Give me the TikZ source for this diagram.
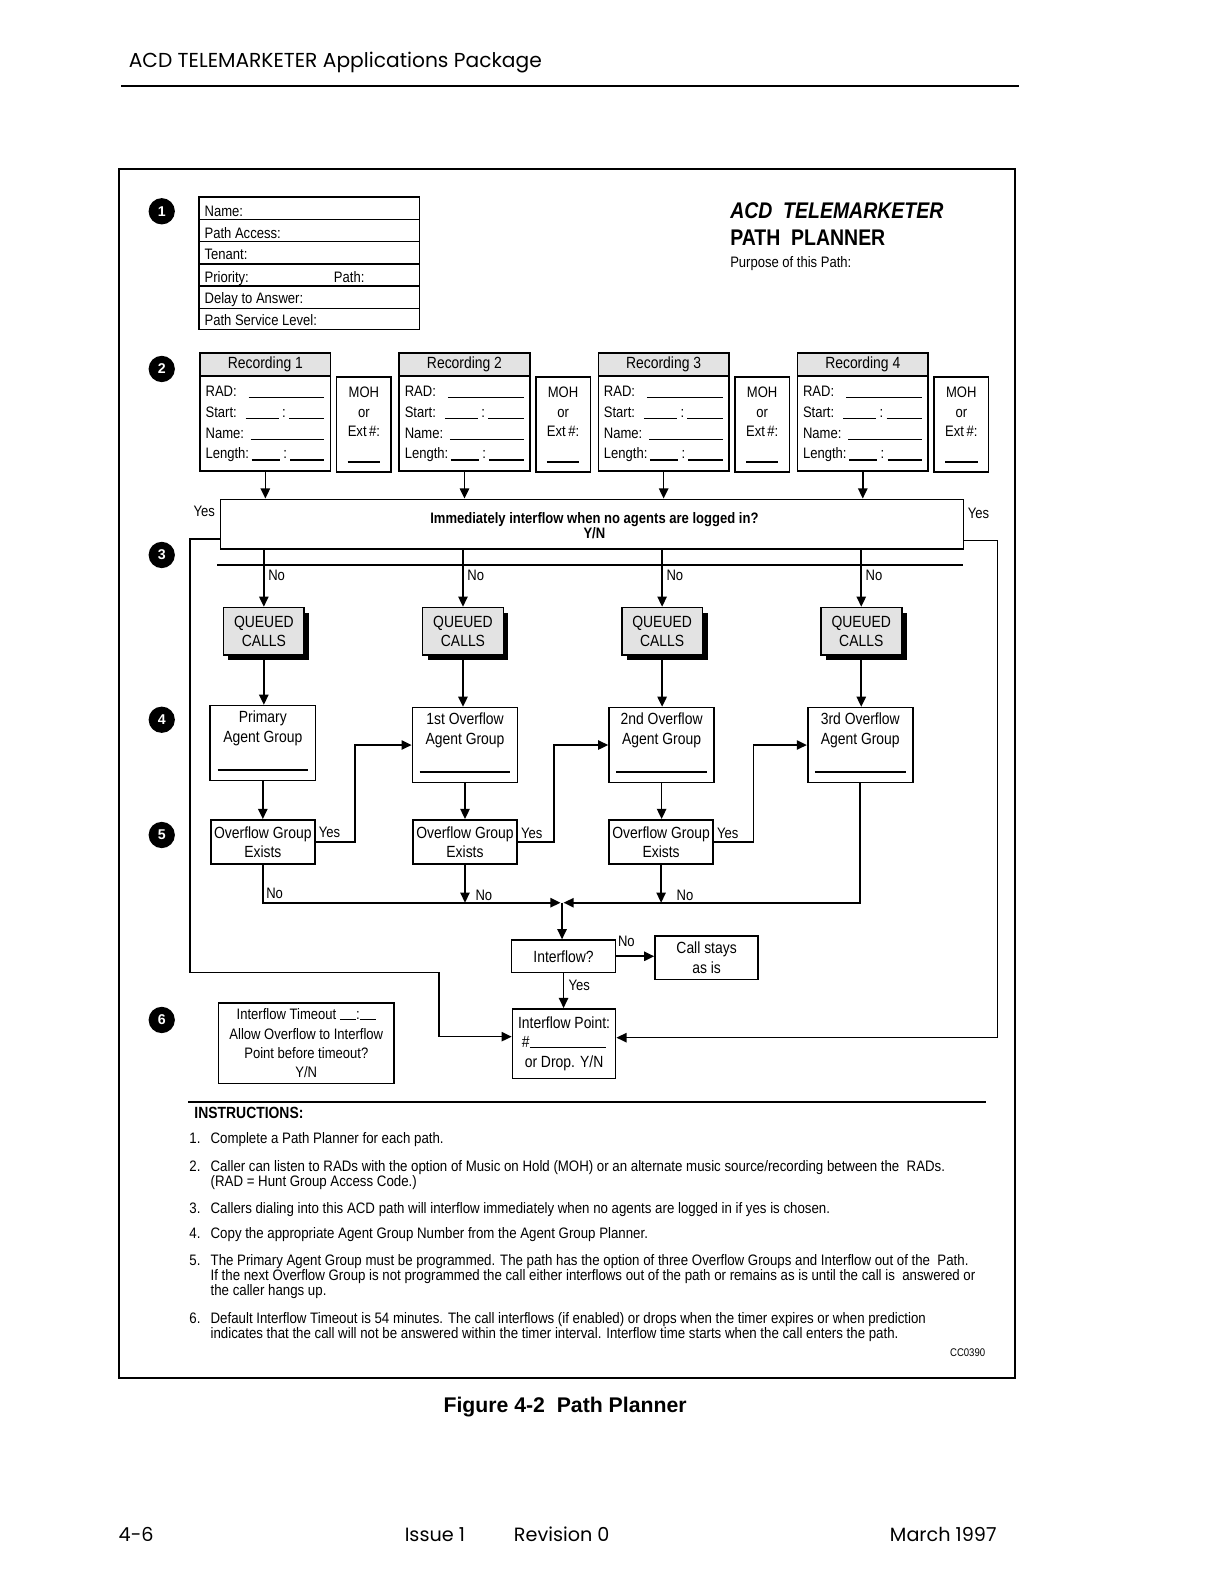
\documentclass[tikz,border=0pt]{standalone}
\usepackage{fontspec}
\setmainfont{Liberation Sans}
\newfontfamily\cnd{Liberation Sans}[FakeStretch=0.86]
\newfontfamily\ncd{Liberation Sans}[FakeStretch=0.875]
\newfontfamily\gth{Poppins}
\usetikzlibrary{arrows.meta,shadows}
\tikzset{
  frm/.style={draw, line width=0.8pt},
  f75/.style={font=\cnd\fontsize{7.5}{9}\selectfont},
  f8/.style={font=\cnd\fontsize{8}{9.5}\selectfont, align=center},
  arr/.style={line width=0.8pt, -{Triangle[length=5pt,width=4.6pt]}},
  ln/.style={line width=0.8pt},
  blank/.style={line width=0.6pt},
  numc/.style={circle, fill=black, minimum size=13pt, text=white, font=\bfseries\fontsize{7}{8}\selectfont},
  shade/.style={fill=gray!22},
  qbox/.style={frm, shade, minimum width=40pt, minimum height=23.5pt, f8,
    drop shadow={shadow xshift=2.5pt, shadow yshift=-2.5pt, opacity=1, fill=black}},
  ins/.style={font=\ncd\fontsize{7.5}{9}\selectfont, anchor=base west},
  foot/.style={font=\gth\fontsize{9.5}{11}\selectfont, anchor=base west},
}
\begin{document}
\begin{tikzpicture}[x=0.5pt,y=-0.5pt, every node/.style={inner sep=0pt}]
\useasboundingbox (0,0) rectangle (1200,1564);
% header
\node[foot, font=\gth\fontsize{10}{12}\selectfont] (hdr) at (127,67) {ACD TELEMARKETER Applications Package};
\draw[line width=0.6pt] (120,85) -- (1008,85);
\draw[line width=0.8pt] (118,167) rectangle (1004,1363);
% numbers
\foreach \k/\yy in {1/209,2/365,3/549,4/712,5/826,6/1009}
  \node[numc] (num\k) at (160,\yy) {\k};
% box 1
\node[frm, minimum width=109pt, minimum height=65.5pt] (b1) at (306,260.5) {};
\foreach \yy in {217,239,261,283,305}
  \draw[ln] (b1.west |- 0,\yy) -- (b1.east |- 0,\yy);
\node[f75, anchor=base west] (l1) at (202,214) {Name:};
\node[f75, anchor=base west] (l2) at (202,236) {Path Access:};
\node[f75, anchor=base west] (l3) at (202,257) {Tenant:};
\node[f75, anchor=base west] (l4) at (202,279) {Priority:};
\node[f75, anchor=base west] (l4b) at (330,279) {Path:};
\node[f75, anchor=base west] (l5) at (202,300) {Delay to Answer:};
\node[f75, anchor=base west] (l6) at (202,322) {Path Service Level:};
% title
\node[font=\cnd\bfseries\itshape\fontsize{11.2}{13}\selectfont, anchor=base west] (t1) at (722,216) {ACD\ \ TELEMARKETER};
\node[font=\cnd\bfseries\fontsize{11.2}{13}\selectfont, anchor=base west] (t2) at (722,243) {PATH\ \ PLANNER};
\node[f75, anchor=base west] (t3) at (722,265) {Purpose of this Path:};
% recordings
\foreach \i in {0,1,2,3}{
  \pgfmathsetmacro\dx{197*\i}
  \pgfmathtruncatemacro\rn{\i+1}
  \node[frm, shade, minimum width=64.5pt, minimum height=11.5pt, f8] (rech\i) at (262.5+\dx,360.5) {Recording \rn};
  \node[frm, minimum width=64.5pt, minimum height=47pt] (recb\i) at (262.5+\dx,419) {};
  \node[f75, anchor=base west] (rad\i) at (203+\dx,392) {RAD:};
  \draw[blank] (246+\dx,393) -- (321+\dx,393);
  \node[f75, anchor=base west] (st\i) at (203+\dx,413) {Start:};
  \draw[blank] (243+\dx,414) -- (276+\dx,414);
  \node[f75, anchor=base] (stc\i) at (281+\dx,413) {:};
  \draw[blank] (286+\dx,414) -- (321+\dx,414);
  \node[f75, anchor=base west] (nm\i) at (203+\dx,434) {Name:};
  \draw[blank] (248+\dx,435) -- (321+\dx,435);
  \node[f75, anchor=base west] (le\i) at (203+\dx,454) {Length:};
  \draw[blank] (249+\dx,455) -- (277+\dx,455);
  \node[f75, anchor=base] (lec\i) at (282+\dx,454) {:};
  \draw[blank] (287+\dx,455) -- (321+\dx,455);
  \node[frm, minimum width=27pt, minimum height=47pt] (moh\i) at (360+\dx,420) {};
  \node[f75, anchor=base] (mo\i) at (360+\dx,393) {MOH};
  \node[f75, anchor=base] (or\i) at (360+\dx,413) {or};
  \node[f75, anchor=base] (ex\i) at (360+\dx,432) {Ext\,\#:};
  \draw[blank] (344+\dx,457) -- (376+\dx,457);
}
% question
\node[frm, minimum width=367.5pt, minimum height=24.5pt] (q) at (585.5,518.5) {};
\node[font=\cnd\bfseries\fontsize{7.5}{9}\selectfont, anchor=base] (qt) at (588,518) {Immediately interflow when no agents are logged in?};
\node[font=\cnd\bfseries\fontsize{7.5}{9}\selectfont, anchor=base] (qyn) at (588,533) {Y/N};
\foreach \i in {0,1,2,3}
  \draw[arr] (recb\i.south) -- (recb\i.south |- q.north);
\node[f75, anchor=base east] (yesl) at (213,511) {Yes};
\node[f75, anchor=base west] (yesr) at (957,513) {Yes};
\draw[ln] (215,559) -- (953,559);
% queued
\foreach \i/\xx in {0/261,1/458,2/655,3/852}{
  \node[qbox] (qc\i) at (\xx,624.5) {QUEUED\\CALLS};
  \draw[arr] (q.south -| qc\i) -- (qc\i.north);
  \node[f75, anchor=base west] (no\i) at (\xx+4,574) {No};
}
% agents
\foreach \i/\xx/\yy/\tx in {0/260/735/{Primary\\Agent Group},1/460/737/{1st Overflow\\Agent Group},2/654.5/737/{2nd Overflow\\Agent Group},3/851/737/{3rd Overflow\\Agent Group}}{
  \node[frm, minimum width=52pt, minimum height=37pt] (ag\i) at (\xx,\yy) {};
  \node[f8, anchor=north] (agt\i) at ([yshift=-3pt]ag\i.north) {\tx};
  \draw[ln] ([xshift=4pt,yshift=5.5pt]ag\i.south west) -- ([xshift=-4pt,yshift=5.5pt]ag\i.south east);
  \draw[arr] (qc\i.south) -- (qc\i.south |- ag\i.north);
}
% overflow exists
\foreach \i/\xx in {0/260,1/460,2/654}{
  \node[frm, minimum width=51.5pt, minimum height=22pt, f8] (ov\i) at (\xx,833) {Overflow Group\\Exists};
  \draw[arr] (ag\i.south) -- (ag\i.south |- ov\i.north);
}
\draw[arr] (ov0.east) -- ++(39,0) |- (ag1.west);
\draw[arr] (ov1.east) -- ++(36,0) |- (ag2.west);
\draw[arr] (ov2.east) -- ++(39,0) |- (ag3.west);
\node[f75, anchor=base west] (y0) at (315,828) {Yes};
\node[f75, anchor=base west] (y1) at (515,829) {Yes};
\node[f75, anchor=base west] (y2) at (709,829) {Yes};
% interflow decision
\node[frm, minimum width=51.5pt, minimum height=16pt, f8] (ifq) at (557.5,946) {Interflow?};
\node[frm, minimum width=51pt, minimum height=21.5pt, f8] (cs) at (699,947.5) {Call stays\\as is};
\node[frm, minimum width=51pt, minimum height=34.5pt, f8] (ip) at (558,1032.5) {Interflow Point:\\\#\rule{38pt}{0.5pt}\\or Drop. Y/N};
\coordinate (jn) at (556,893);
\coordinate (jnl) at (554.5,893);
\coordinate (jnr) at (557.5,893);
\draw[arr] (ov0.south) |- (jnl);
\draw[arr] (ag3.south) |- (jnr);
\draw[arr] (ov1.south) -- (ov1.south |- jn);
\draw[arr] (ov2.south) -- (ov2.south |- jn);
\draw[arr] (jn) -- (jn |- ifq.north);
\node[f75, anchor=base west] (n0) at (263,889) {No};
\node[f75, anchor=base west] (n1) at (470,891) {No};
\node[f75, anchor=base west] (n2) at (669,891) {No};
\draw[arr] (ifq.east) -- (ifq.east -| cs.west);
\node[f75, anchor=base west] (nolab) at (611,936) {No};
\draw[arr] (ifq.south) -- (ifq.south |- ip.north);
\node[f75, anchor=base west] (yesi) at (562,980) {Yes};
\draw[arr] ([yshift=-7.25pt]q.west) -- ++(-29,0) |- (434,962) |- ([yshift=3.5pt]ip.west);
\draw[arr] ([yshift=-8pt]q.east) -- ++(33,0) |- ([yshift=3pt]ip.east);
% timeout
\node[frm, minimum width=87pt, minimum height=40pt, font=\cnd\fontsize{7.5}{9.5}\selectfont, align=center] (tb) at (303,1032) {Interflow Timeout \rule{8pt}{0.5pt}:\rule{8pt}{0.5pt}\\Allow Overflow to Interflow\\Point before timeout?\\Y/N};
% instructions
\draw[line width=1.2pt] (186,1090) -- (975,1090);
\node[font=\cnd\bfseries\fontsize{8}{9}\selectfont, anchor=base west] (insh) at (192,1106) {INSTRUCTIONS:};
\node[ins] (i1n) at (187,1131) {1.};
\node[ins] (i1) at (208,1131) {Complete a Path Planner for each path.};
\node[ins] (i2n) at (187,1159) {2.};
\node[ins] (i2) at (208,1159) {Caller can listen to RADs with the option of Music on Hold (MOH) or an alternate music source/recording between the\ \ RADs.};
\node[ins] (i2b) at (208,1174) {(RAD = Hunt Group Access Code.)};
\node[ins] (i3n) at (187,1200) {3.};
\node[ins] (i3) at (208,1200) {Callers dialing into this ACD path will interflow immediately when no agents are logged in if yes is chosen.};
\node[ins] (i4n) at (187,1225) {4.};
\node[ins] (i4) at (208,1225) {Copy the appropriate Agent Group Number from the Agent Group Planner.};
\node[ins] (i5n) at (187,1252) {5.};
\node[ins] (i5) at (208,1252) {The Primary Agent Group must be programmed. The path has the option of three Overflow Groups and Interflow out of the\ \ Path.};
\node[ins] (i5b) at (208,1267) {If the next Overflow Group is not programmed the call either interflows out of the path or remains as is until the call is\ \ answered or};
\node[ins] (i5c) at (208,1282) {the caller hangs up.};
\node[ins] (i6n) at (187,1309) {6.};
\node[ins] (i6) at (208,1309) {Default Interflow Timeout is 54 minutes. The call interflows (if enabled) or drops when the timer expires or when prediction};
\node[ins] (i6b) at (208,1324) {indicates that the call will not be answered within the timer interval. Interflow time starts when the call enters the path.};
\node[font=\cnd\fontsize{5.5}{6}\selectfont, anchor=base east] (cc) at (975,1342) {CC0390};
% caption
\node[font=\bfseries\fontsize{10.5}{12}\selectfont, anchor=base] (cap) at (559,1397) {Figure 4-2\ \ Path Planner};
% footer
\node[foot] (f1) at (117,1525) {4-6};
\node[foot] (f2) at (400,1525) {Issue 1};
\node[foot] (f3) at (508,1525) {Revision 0};
\node[foot] (f4) at (880,1525) {March 1997};
\end{tikzpicture}
\end{document}
